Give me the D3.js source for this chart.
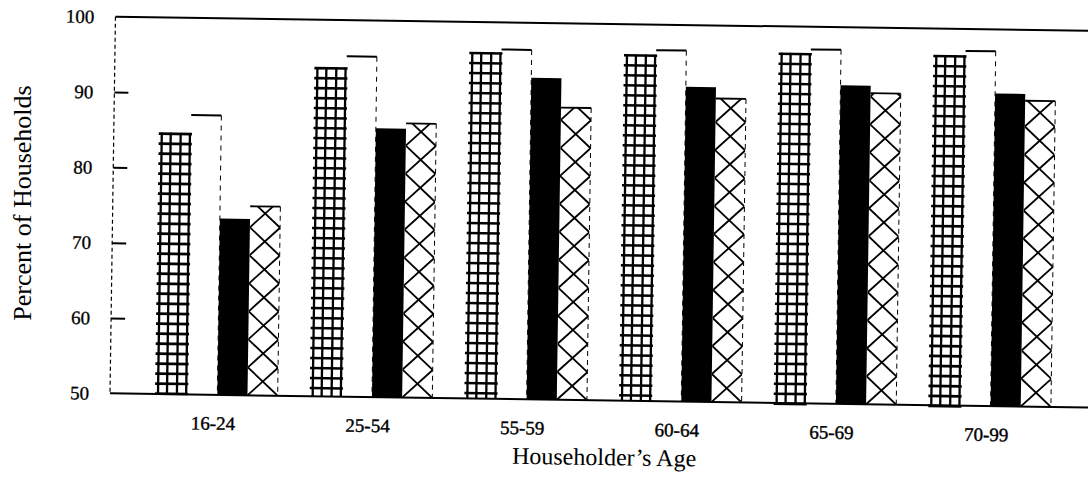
<!DOCTYPE html>
<html><head><meta charset="utf-8">
<script src="https://cdn.jsdelivr.net/npm/d3@7"></script>
<style>body{margin:0;background:#fff}svg{display:block}</style>
</head><body>
<svg id="c" width="1088" height="477"></svg>
<script>
const categories = ["16-24","25-54","55-59","60-64","65-69","70-99"];
const seriesNames = ["grid","white","black","cross"];
const gridValues  = [84.7, 93.7, 96.0, 96.0, 96.5, 96.5];
const whiteValues = [87.1, 95.2, 96.4, 96.6, 97.0, 97.1];
const blackValues = [73.4, 85.7, 92.7, 91.8, 92.3, 91.5];
const crossValues = [75.1, 86.4, 88.8, 90.3, 91.3, 90.6];
const yTickLabels = [50, 60, 70, 80, 90, 100];
const yInnerTicks = [60, 70, 80, 90];
const xTitle = "Householder’s Age";
const yTitle = "Percent of Households";

const valuesBySeries = {grid: gridValues, white: whiteValues, black: blackValues, cross: crossValues};
const FONT = "'Liberation Serif','Times New Roman',serif";

const svg = d3.select("#c");
const axisX = 110;
const y = d3.scaleLinear().domain([50, 100]).range([393.3, 16.7]);
const x = d3.scaleBand().domain(categories).range([140, 1068]).paddingInner(0.22).paddingOuter(0.11);
const xs = d3.scaleBand().domain(seriesNames).range([0, x.bandwidth()]);

const g = svg.append("g").attr("transform", `rotate(0.83,${axisX},${y(50)})`);

const bars = [];
categories.forEach((c, i) => {
  seriesNames.forEach(s => {
    const x0 = x(c) + xs(s), w = xs.bandwidth();
    bars.push({cat: c, s, v: valuesBySeries[s][i], x0, w, yt: y(valuesBySeries[s][i]), yb: y(50), id: `b${i}${s}`});
  });
});

const defs = svg.append("defs");

// black bars
g.selectAll("rect.black").data(bars.filter(d => d.s === "black")).join("rect")
  .attr("class", "black").attr("x", d => d.x0).attr("y", d => d.yt)
  .attr("width", d => d.w).attr("height", d => d.yb - d.yt).attr("fill", "#000");

// white bars
const wb = bars.filter(d => d.s === "white");
g.selectAll("line.wtop").data(wb).join("line").attr("class", "wtop")
  .attr("x1", d => d.x0).attr("x2", d => d.x0 + d.w).attr("y1", d => d.yt).attr("y2", d => d.yt)
  .attr("stroke", "#000").attr("stroke-width", 2);
g.selectAll("line.wright").data(wb).join("line").attr("class", "wright")
  .attr("x1", d => d.x0 + d.w).attr("x2", d => d.x0 + d.w).attr("y1", d => d.yt).attr("y2", d => d.yb)
  .attr("stroke", "#000").attr("stroke-width", 1).attr("stroke-dasharray", "5,5");

// grid bars
const gb = bars.filter(d => d.s === "grid");
gb.forEach(d => {
  const gg = g.append("g");
  const n = Math.floor((d.yb - d.yt) / 10);
  const hs = d3.range(0, n + 1).map(k => d.yt + k * 10 + 1);
  gg.selectAll("line.h").data(hs).join("line")
    .attr("x1", d.x0 - 2).attr("x2", d.x0 + d.w + 1).attr("y1", v => v).attr("y2", v => v)
    .attr("stroke", "#000").attr("stroke-width", 2.6);
  const vs = [d.x0 + 1, d.x0 + d.w * 0.33, d.x0 + d.w * 0.66, d.x0 + d.w - 1];
  gg.selectAll("line.v").data(vs).join("line")
    .attr("x1", v => v).attr("x2", v => v).attr("y1", d.yt).attr("y2", d.yb)
    .attr("stroke", "#000").attr("stroke-width", 2.3);
});

// cross bars
const cb = bars.filter(d => d.s === "cross");
cb.forEach(d => {
  defs.append("clipPath").attr("id", "clip" + d.id).append("rect")
    .attr("x", d.x0).attr("y", d.yt).attr("width", d.w).attr("height", d.yb - d.yt);
  const gg = g.append("g");
  const h = 28;
  const n = Math.ceil((d.yb - d.yt) / h) + 1;
  const segs = [];
  d3.range(0, n).forEach(k => {
    segs.push([d.x0, d.yb - k * h, d.x0 + d.w, d.yb - (k + 1) * h]);
    segs.push([d.x0 + d.w, d.yb - k * h, d.x0, d.yb - (k + 1) * h]);
  });
  gg.append("g").attr("clip-path", `url(#clip${d.id})`).selectAll("line").data(segs).join("line")
    .attr("x1", s => s[0]).attr("y1", s => s[1]).attr("x2", s => s[2]).attr("y2", s => s[3])
    .attr("stroke", "#000").attr("stroke-width", 1.8);
  gg.append("line").attr("x1", d.x0).attr("x2", d.x0 + d.w).attr("y1", d.yt).attr("y2", d.yt)
    .attr("stroke", "#000").attr("stroke-width", 1.8);
  gg.append("line").attr("x1", d.x0 + d.w).attr("x2", d.x0 + d.w).attr("y1", d.yt).attr("y2", d.yb)
    .attr("stroke", "#000").attr("stroke-width", 1).attr("stroke-dasharray", "5,4");
});

// frame lines
g.append("line").attr("x1", axisX).attr("x2", 1110).attr("y1", y(100)).attr("y2", y(100))
  .attr("stroke", "#000").attr("stroke-width", 2);
g.append("line").attr("x1", axisX).attr("x2", 1110).attr("y1", y(50)).attr("y2", y(50))
  .attr("stroke", "#000").attr("stroke-width", 2);
g.append("line").attr("x1", axisX).attr("x2", axisX).attr("y1", y(100)).attr("y2", y(50))
  .attr("stroke", "#000").attr("stroke-width", 1.2).attr("stroke-dasharray", "4,3");

// inner ticks
const tickAxis = g.append("g").attr("transform", `translate(${axisX},0)`)
  .call(d3.axisRight(y).tickValues(yInnerTicks).tickSize(14).tickFormat(""));
tickAxis.select(".domain").remove();
tickAxis.selectAll("line").attr("stroke-width", 2);

// tick labels
const labAxis = g.append("g").attr("transform", `translate(${axisX},0)`)
  .call(d3.axisLeft(y).tickValues(yTickLabels).tickSize(0).tickPadding(21).tickFormat(d3.format("d")));
labAxis.select(".domain").remove();
labAxis.selectAll("text").attr("font-family", FONT).attr("font-size", 19).attr("fill", "#000")
  .attr("stroke", "#000").attr("stroke-width", 0.3);

// x labels
const xAxis = g.append("g").attr("transform", `translate(-4,${y(50)})`)
  .call(d3.axisBottom(x).tickSize(0).tickPadding(21.5));
xAxis.select(".domain").remove();
xAxis.selectAll("text").attr("font-family", FONT).attr("font-size", 19).attr("fill", "#000")
  .attr("stroke", "#000").attr("stroke-width", 0.4);

// x title
g.append("text").attr("x", 605).attr("y", 458).attr("text-anchor", "middle")
  .attr("font-family", FONT).attr("font-size", 24).attr("fill", "#000").text(xTitle);

// y title
svg.append("text").attr("transform", "translate(31,203) rotate(-90)").attr("text-anchor", "middle")
  .attr("font-family", FONT).attr("font-size", 26).attr("fill", "#000").text(yTitle);
</script>
</body></html>
